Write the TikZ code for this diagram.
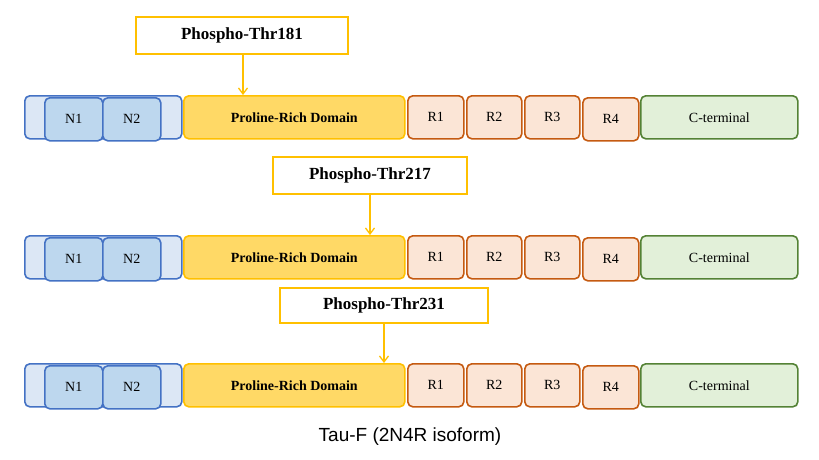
\documentclass[tikz,border=0pt]{standalone}
\usepackage{fontspec}
\setmainfont{Liberation Serif}
\newfontfamily\capfont{Liberation Sans}
\usetikzlibrary{arrows.meta}
\definecolor{bB}{HTML}{4472C4}\definecolor{bL}{HTML}{DCE7F5}\definecolor{bF}{HTML}{BDD7EE}
\definecolor{yB}{HTML}{FFC000}\definecolor{yF}{HTML}{FFD966}
\definecolor{oB}{HTML}{C55A11}\definecolor{oF}{HTML}{FBE5D6}
\definecolor{gB}{HTML}{548235}\definecolor{gF}{HTML}{E2F0D9}
\tikzset{
seg/.style={rounded corners=5pt,line width=1.6pt,minimum height=43pt,inner sep=0pt,font=\fontsize{14}{16}\selectfont},
nout/.style={seg,draw=bB,fill=bL},
nin/.style={seg,draw=bB,fill=bF},
prd/.style={seg,draw=yB,fill=yF,font=\fontsize{14}{16}\selectfont\bfseries},
rr/.style={seg,draw=oB,fill=oF},
ct/.style={seg,draw=gB,fill=gF},
lab/.style={draw=yB,fill=white,line width=1.3pt,inner sep=0pt,font=\fontsize{17}{19}\selectfont\bfseries},
arr/.style={draw=yB,line width=1.3pt,-{Straight Barb[length=6pt,width=9pt]}}
}
\begin{document}
\begin{tikzpicture}[x=1pt,y=-1pt]
\useasboundingbox (0,0) rectangle (819,459);
\foreach \r/\y in {a/95,b/235,c/363}{
\node[nout,minimum width=157pt,anchor=north west] (\r o) at (24,\y) {};
\node[nin,minimum width=58pt,anchor=north west] (\r n1) at (44,\y+2) {N1};
\node[nin,minimum width=58pt,anchor=north west] (\r n2) at (102,\y+2) {N2};
\node[prd,minimum width=221pt,anchor=north west] (\r p) at (183,\y) {Proline-Rich Domain};
\node[rr,minimum width=56pt,anchor=north west] (\r r1) at (407,\y) {R1};
\node[rr,minimum width=55pt,anchor=north west] (\r r2) at (466,\y) {R2};
\node[rr,minimum width=55pt,anchor=north west] (\r r3) at (524,\y) {R3};
\node[rr,minimum width=56pt,anchor=north west] (\r r4) at (582,\y+2) {R4};
\node[ct,minimum width=157pt,anchor=north west] (\r c) at (640,\y) {C-terminal};
}
\node[lab,minimum width=212pt,minimum height=37pt] (l1) at (242,35.5) {Phospho-Thr181};
\node[lab,minimum width=194pt,minimum height=37pt] (l2) at (370,175.5) {Phospho-Thr217};
\node[lab,minimum width=208pt,minimum height=35pt] (l3) at (384,305.5) {Phospho-Thr231};
\draw[arr] (l1.south -| 243,0) -- (243,95);
\draw[arr] (l2.south) -- (370,235);
\draw[arr] (l3.south) -- (384,363);
\node[font=\capfont\fontsize{19}{22}\selectfont] (cap) at (410,437) {Tau-F (2N4R isoform)};
\end{tikzpicture}
\end{document}
